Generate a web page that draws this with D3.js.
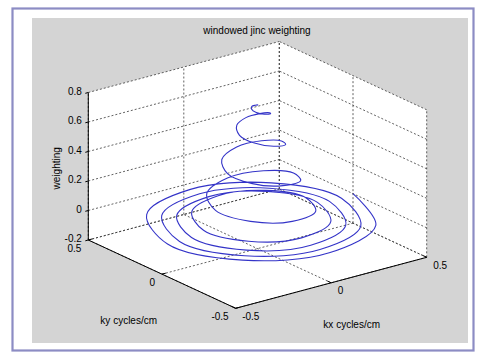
<!DOCTYPE html>
<html>
<head>
<meta charset="utf-8">
<script src="https://cdn.jsdelivr.net/npm/d3@7"></script>
<style>
  html, body { margin: 0; padding: 0; background: #ffffff; }
  svg { display: block; }
  text { font-family: "Liberation Sans", Arial, Helvetica, sans-serif; font-size: 10px; fill: #000; }
</style>
</head>
<body>
<svg id="chart" width="478" height="354"></svg>
<script>
// Spiral k-space trajectory samples (every 45 degrees) and their jinc weights
const kxData = [0, 0.0056, 0, -0.0167, -0.0314, -0.0278, 0, 0.0389,
  0.0628, 0.05, 0, -0.0611, -0.0942, -0.0722, 0, 0.0833,
  0.1256, 0.0944, 0, -0.1055, -0.157, -0.1166, 0, 0.1277,
  0.1884, 0.1388, 0, -0.1499, -0.2198, -0.161, 0, 0.1721,
  0.2512, 0.1832, 0, -0.1943, -0.2826, -0.2054, 0, 0.2165,
  0.314, 0.2276, 0, -0.2387, -0.3454, -0.2498, 0, 0.2609,
  0.3768, 0.272, 0, -0.2831, -0.4082, -0.2942, 0, 0.3053,
  0.4396, 0.3164, 0, -0.3275, -0.471, -0.3386, 0, 0.3497,
  0.5];
const kyData = [0, 0.0056, 0.0157, 0.0167, 0, -0.0278, -0.0471, -0.0389,
  0, 0.05, 0.0785, 0.0611, 0, -0.0722, -0.11, -0.0833,
  0, 0.0944, 0.1413, 0.1055, 0, -0.1166, -0.1727, -0.1277,
  0, 0.1388, 0.2041, 0.1499, 0, -0.161, -0.2355, -0.1721,
  0, 0.1832, 0.2669, 0.1943, 0, -0.2054, -0.2983, -0.2165,
  0, 0.2276, 0.3297, 0.2387, 0, -0.2498, -0.3611, -0.2609,
  0, 0.272, 0.3925, 0.2831, 0, -0.2942, -0.4239, -0.3053,
  0, 0.3164, 0.4553, 0.3275, 0, -0.3386, -0.4867, -0.3497,
  0];
const weightData = [0.77, 0.77, 0.765, 0.762, 0.758, 0.745, 0.733, 0.72,
  0.699, 0.675, 0.652, 0.63, 0.601, 0.574, 0.545, 0.517,
  0.487, 0.455, 0.424, 0.392, 0.363, 0.335, 0.307, 0.278,
  0.248, 0.216, 0.184, 0.155, 0.135, 0.115, 0.094, 0.074,
  0.06, 0.047, 0.035, 0.027, 0.022, 0.016, 0.011, 0.008,
  0.005, 0.003, 0, -0.003, -0.005, -0.008, -0.01, -0.01,
  -0.01, -0.01, -0.01, -0.01, -0.01, -0.01, -0.01, -0.01,
  -0.01, -0.01, -0.009, -0.007, -0.006, -0.004, -0.003, -0.001,
  0];

const kxTicks = [-0.5, 0, 0.5];
const kyTicks = [-0.5, 0, 0.5];
const zTicks = [-0.2, 0, 0.2, 0.4, 0.6, 0.8];
const kxTickLabels = ["-0.5", "0", "0.5"];
const kyTickLabels = ["-0.5", "0", "0.5"];
const zTickLabels = ["-0.2", "0", "0.2", "0.4", "0.6", "0.8"];

const titleText = "windowed jinc weighting";
const kxLabel = "kx cycles/cm";
const kyLabel = "ky cycles/cm";
const zLabel = "weighting";

// Axis scales: each maps a data range onto 0..1 along one edge of the box
const sx = d3.scaleLinear().domain([-0.5, 0.5]).range([0, 1]);
const sy = d3.scaleLinear().domain([-0.5, 0.5]).range([0, 1]);
const sz = d3.scaleLinear().domain([-0.2, 0.8]).range([0, 1]);

// Orthographic view: screen position of the near bottom corner and edge vectors
const origin = [235.7, 308.3];
const ex = [191, -51];
const ey = [-147.4, -68.3];
const ez = [0, -147.5];

function proj(kx, ky, z) {
  const u = sx(kx), v = sy(ky), w = sz(z);
  return [origin[0] + u * ex[0] + v * ey[0] + w * ez[0],
          origin[1] + u * ex[1] + v * ey[1] + w * ez[1]];
}

const svg = d3.select("#chart");

// Figure frame and grey figure background
svg.append("rect").attr("x", 12.5).attr("y", 8.5).attr("width", 461).attr("height", 342)
  .attr("fill", "#ffffff").attr("stroke", "#8c8cc4").attr("stroke-width", 2.2);
svg.append("rect").attr("x", 32).attr("y", 18).attr("width", 436).attr("height", 325)
  .attr("fill", "#d4d4d4");

const xMin = -0.5, xMax = 0.5, yMin = -0.5, yMax = 0.5, zMin = -0.2, zMax = 0.8;

// White backing for the visible walls and floor
const hull = [proj(xMin, yMax, zMin), proj(xMin, yMax, zMax), proj(xMax, yMax, zMax),
              proj(xMax, yMin, zMax), proj(xMax, yMin, zMin), proj(xMin, yMin, zMin)];
svg.append("polygon").attr("points", hull.map(p => p.join(",")).join(" "))
  .attr("fill", "#ffffff");

// Dotted grid on the back walls and floor
const gridSegs = [];
zTicks.forEach(z => {
  gridSegs.push([proj(xMin, yMax, z), proj(xMax, yMax, z)]);
  gridSegs.push([proj(xMax, yMin, z), proj(xMax, yMax, z)]);
});
kxTicks.forEach(x => {
  gridSegs.push([proj(x, yMax, zMin), proj(x, yMax, zMax)]);
  gridSegs.push([proj(x, yMin, zMin), proj(x, yMax, zMin)]);
});
kyTicks.forEach(y => {
  gridSegs.push([proj(xMax, y, zMin), proj(xMax, y, zMax)]);
  gridSegs.push([proj(xMin, y, zMin), proj(xMax, y, zMin)]);
});
svg.append("g").selectAll("line").data(gridSegs).join("line")
  .attr("x1", d => d[0][0]).attr("y1", d => d[0][1])
  .attr("x2", d => d[1][0]).attr("y2", d => d[1][1])
  .attr("stroke", "#3a3a3a").attr("stroke-width", 0.8)
  .attr("stroke-dasharray", "2,2");

// Solid axis lines
const axisSegs = [
  [proj(xMin, yMax, zMin), proj(xMin, yMax, zMax)],
  [proj(xMin, yMin, zMin), proj(xMin, yMax, zMin)],
  [proj(xMin, yMin, zMin), proj(xMax, yMin, zMin)]
];
svg.append("g").selectAll("line").data(axisSegs).join("line")
  .attr("x1", d => d[0][0]).attr("y1", d => d[0][1])
  .attr("x2", d => d[1][0]).attr("y2", d => d[1][1])
  .attr("stroke", "#000").attr("stroke-width", 1);

// Tick marks
const tickG = svg.append("g").attr("stroke", "#000").attr("stroke-width", 1);
zTicks.forEach(z => {
  const p = proj(xMin, yMax, z);
  tickG.append("line").attr("x1", p[0]).attr("y1", p[1]).attr("x2", p[0] - 3).attr("y2", p[1] + 0.8);
});
kxTicks.forEach(x => {
  const p = proj(x, yMin, zMin), q = proj(x, yMin + 0.025, zMin);
  tickG.append("line").attr("x1", p[0]).attr("y1", p[1]).attr("x2", q[0]).attr("y2", q[1]);
});
kyTicks.forEach(y => {
  const p = proj(xMin, y, zMin), q = proj(xMin + 0.02, y, zMin);
  tickG.append("line").attr("x1", p[0]).attr("y1", p[1]).attr("x2", q[0]).attr("y2", q[1]);
});

// Tick labels
zTicks.forEach((z, i) => {
  const p = proj(xMin, yMax, z);
  svg.append("text").attr("x", p[0] - 6.5).attr("y", p[1] + 2)
    .attr("text-anchor", "end").text(zTickLabels[i]);
});
kyTicks.forEach((y, i) => {
  const p = proj(xMin, y, zMin);
  svg.append("text").attr("x", p[0] - 7).attr("y", p[1] + 12)
    .attr("text-anchor", "end").text(kyTickLabels[i]);
});
kxTicks.forEach((x, i) => {
  const p = proj(x, yMin, zMin);
  svg.append("text").attr("x", p[0] + 6.5).attr("y", p[1] + 11.5)
    .attr("text-anchor", "start").text(kxTickLabels[i]);
});

// Title and axis labels
svg.append("text").attr("x", 257).attr("y", 33.5).attr("text-anchor", "middle").text(titleText);
svg.append("text").attr("x", 128.7).attr("y", 324).attr("text-anchor", "middle").text(kyLabel);
svg.append("text").attr("x", 351.7).attr("y", 327.8).attr("text-anchor", "middle").text(kxLabel);
svg.append("text").attr("transform", "translate(59.5,168.3) rotate(-90)")
  .attr("text-anchor", "middle").text(zLabel);

// Weighted spiral trajectory
const pts = kxData.map((kx, i) => proj(kx, kyData[i], weightData[i]));
const line = d3.line().curve(d3.curveCatmullRom.alpha(0.5));
svg.append("path").attr("d", line(pts))
  .attr("fill", "none").attr("stroke", "#3434c8").attr("stroke-width", 1.1);
</script>
</body>
</html>
